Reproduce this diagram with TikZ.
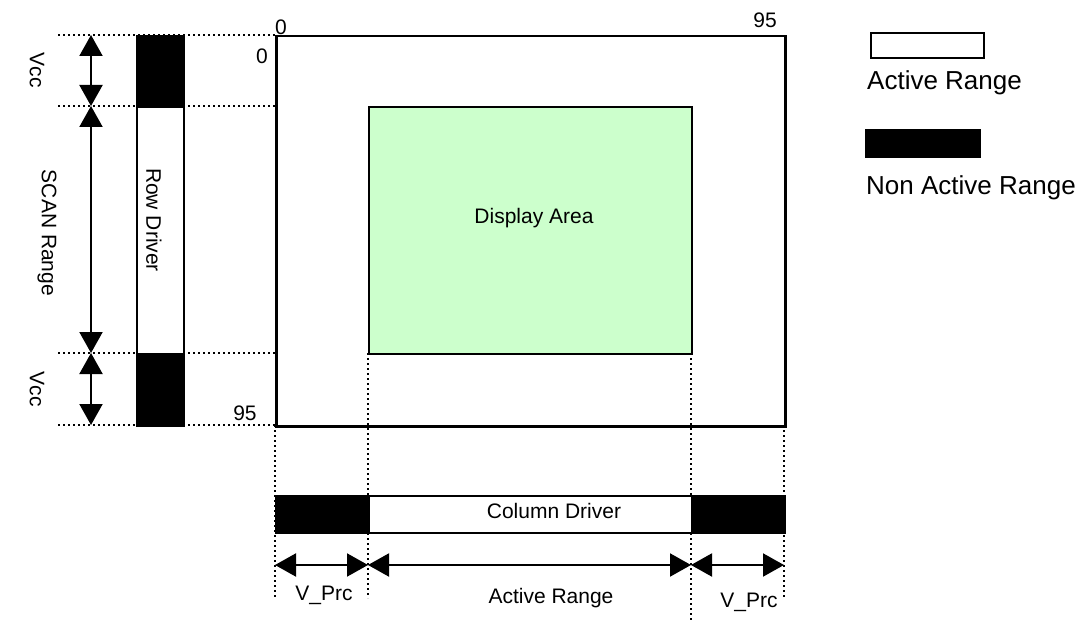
\documentclass[tikz,border=0pt]{standalone}
\usepackage{fontspec}
\setmainfont{Liberation Sans}
\usetikzlibrary{arrows.meta}
\begin{document}
\begin{tikzpicture}[x=1pt,y=-1pt,
  every node/.style={font=\fontsize{21}{25}\selectfont, inner sep=0pt},
  box/.style={draw, line width=2.2pt, inner sep=0pt, anchor=north west},
  blk/.style={box, fill=black},
  wht/.style={box, fill=white},
  dots/.style={line width=2.6pt, dash pattern=on 2.4pt off 2.6pt},
  dim/.style={line width=2pt, {Triangle[width=23pt,length=21pt]}-{Triangle[width=23pt,length=21pt]}},
  lgd/.style={font=\fontsize{26}{30}\selectfont, anchor=base west}]
\useasboundingbox (0,0) rectangle (1085,623);

% dotted guide lines
\coordinate (l1) at (58,35);  \coordinate (r1) at (275,35);
\coordinate (l2) at (58,106); \coordinate (r2) at (275,106);
\coordinate (l3) at (58,353); \coordinate (r3) at (275,353);
\coordinate (l4) at (58,425); \coordinate (r4) at (275,425);
\foreach \i in {1,...,4} \draw[dots] (l\i) -- (r\i);

\coordinate (t1) at (275,425); \coordinate (b1) at (275,598);
\coordinate (t2) at (368,353); \coordinate (b2) at (368,598);
\coordinate (t3) at (691,353); \coordinate (b3) at (691,623);
\coordinate (t4) at (784,425); \coordinate (b4) at (784,598);
\foreach \i in {1,...,4} \draw[dots] (t\i) -- (b\i);

% main panel
\node (panel) [box, line width=2.5pt, minimum width=509pt, minimum height=390pt] at (275,35) {};
\node (display) [box, fill={rgb,255:red,204;green,255;blue,204}, minimum width=323pt, minimum height=247pt] at (368,106) {};
\node at (534,218) {Display Area};

% row driver
\node (rowtop) [blk, minimum width=47pt, minimum height=71pt] at (136,35) {};
\node (rowmid) [wht, minimum width=47pt, minimum height=247pt] at (136,106) {};
\node (rowbot) [blk, minimum width=47pt, minimum height=72pt] at (136,353) {};
\node[rotate=-90] at (154,220) {Row Driver};

% column driver
\node (colL) [blk, minimum width=93pt, minimum height=37pt] at (275,495) {};
\node (colM) [wht, minimum width=323pt, minimum height=37pt] at (368,495) {};
\node (colR) [blk, minimum width=93pt, minimum height=37pt] at (691,495) {};
\node[anchor=base] at (554,518) {Column Driver};

% vertical dimension arrows
\coordinate (v1) at (91,35); \coordinate (v2) at (91,106);
\coordinate (v3) at (91,353); \coordinate (v4) at (91,425);
\draw[dim] (v1) -- (v2);
\draw[dim] (v2) -- (v3);
\draw[dim] (v3) -- (v4);
\node[rotate=-90] at (37,70) {Vcc};
\node[rotate=-90] at (47,233) {SCAN Range};
\node[rotate=-90] at (37,389) {Vcc};

% horizontal dimension arrows
\coordinate (h1) at (275,565); \coordinate (h2) at (368,565);
\coordinate (h3) at (691,565); \coordinate (h4) at (784,565);
\draw[dim] (h1) -- (h2);
\draw[dim] (h2) -- (h3);
\draw[dim] (h3) -- (h4);
\node[anchor=base] at (324,600) {V\_Prc};
\node[anchor=base] at (551,603) {Active Range};
\node[anchor=base] at (749,607) {V\_Prc};

% axis numbers
\node[anchor=base] at (281,35) {0};
\node[anchor=base] at (765,28) {95};
\node[anchor=base] at (262,64) {0};
\node[anchor=base] at (245,420) {95};

% legend
\node (lgA) [wht, line width=2pt, minimum width=113pt, minimum height=25pt] at (870,32) {};
\node[lgd] at (867,90) {Active Range};
\node (lgN) [blk, minimum width=114pt, minimum height=27pt] at (865,129) {};
\node[lgd] at (866,195) {Non Active Range};
\end{tikzpicture}
\end{document}
